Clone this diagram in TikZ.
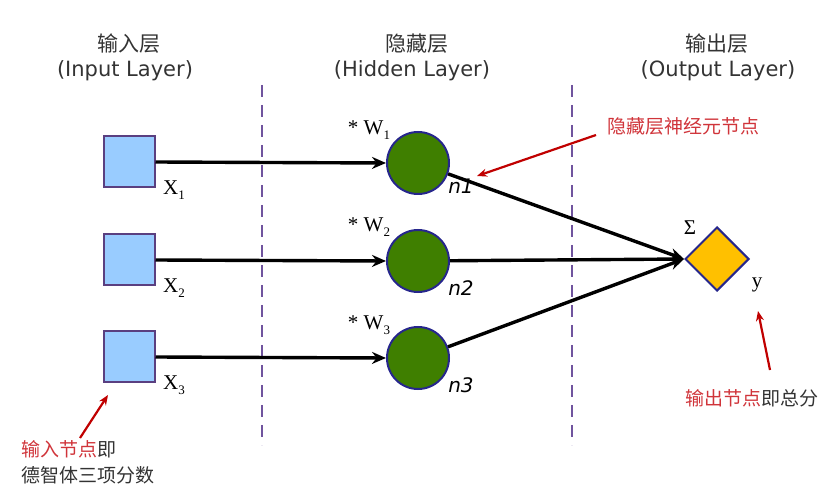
\documentclass[tikz,border=0pt]{standalone}
\usepackage{fontspec}
\setmainfont{DejaVu Sans}
\newfontfamily\cjk{Noto Sans CJK SC}
\newfontfamily\tms{Liberation Serif}
\usetikzlibrary{arrows.meta,shapes.geometric}
\definecolor{boxfill}{HTML}{99CCFF}
\definecolor{boxdraw}{HTML}{5A3F80}
\definecolor{neurfill}{HTML}{3F7F00}
\definecolor{neurdraw}{HTML}{26268C}
\definecolor{outfill}{HTML}{FFC000}
\definecolor{sepcol}{HTML}{70549E}
\definecolor{annred}{HTML}{D0343A}
\definecolor{arrred}{HTML}{C00000}
\definecolor{txtgray}{HTML}{333333}
\tikzset{
  inbox/.style={draw=boxdraw, fill=boxfill, line width=2pt, minimum size=51pt, inner sep=0pt},
  neuron/.style={circle, draw=neurdraw, fill=neurfill, line width=2pt, minimum size=62pt, inner sep=0pt},
  outnode/.style={diamond, draw=neurdraw, fill=outfill, line width=2pt, minimum size=64pt, inner sep=0pt, aspect=1},
  conn/.style={line width=3.4pt, -{Stealth[length=14pt,width=12pt]}},
  sepline/.style={sepcol, line width=2pt, dash pattern=on 12pt off 8pt},
  title/.style={text=txtgray, font=\fontsize{21}{24}\selectfont, inner sep=0pt},
  cjktitle/.style={text=txtgray, font=\cjk\fontsize{21}{24}\selectfont, inner sep=0pt},
  xlab/.style={font=\tms\fontsize{21}{24}\selectfont, inner sep=0pt},
  nlab/.style={font=\itshape\fontsize{20}{24}\selectfont, inner sep=0pt},
  ann/.style={text=txtgray, font=\cjk\fontsize{19}{26}\selectfont, inner sep=0pt, align=left},
  redarr/.style={arrred, line width=2.2pt, -{Stealth[length=10pt,width=8pt]}}
}
\newcommand{\subnum}[1]{\raisebox{-5pt}{\fontsize{13}{14}\selectfont #1}}
\begin{document}
\begin{tikzpicture}[x=1pt,y=-1pt]
\useasboundingbox (0,0) rectangle (831,497);
% titles
\node[cjktitle] (t1a) at (129,44) {输入层};
\node[title] (t1b) at (125,71) {(Input Layer)};
\node[cjktitle] (t2a) at (417,44) {隐藏层};
\node[title] (t2b) at (412,71) {(Hidden Layer)};
\node[cjktitle] (t3a) at (717,44) {输出层};
\node[title] (t3b) at (718,71) {(Output Layer)};
% separators
\coordinate (s1t) at (262,85); \coordinate (s1b) at (262,445);
\coordinate (s2t) at (572,85); \coordinate (s2b) at (572,445);
\draw[sepline] (s1t) -- (s1b);
\draw[sepline] (s2t) -- (s2b);
% nodes
\node[inbox] (x1) at (129,162) {};
\node[inbox] (x2) at (129,260) {};
\node[inbox] (x3) at (129,357) {};
\node[neuron] (h1) at (418,163) {};
\node[neuron] (h2) at (418,261) {};
\node[neuron] (h3) at (418,358) {};
\node[outnode] (out) at (717,259) {};
% connectors
\draw[conn] (x1.east) -- (h1.west);
\draw[conn] (x2.east) -- (h2.west);
\draw[conn] (x3.east) -- (h3.west);
\draw[conn] (h1) -- (out.west);
\draw[conn] (h2) -- (out.west);
\draw[conn] (h3) -- (out.west);
% labels
\node[xlab] (lx1) at (174,190) {X\subnum{1}};
\node[xlab] (lx2) at (174,288) {X\subnum{2}};
\node[xlab] (lx3) at (174,385) {X\subnum{3}};
\node[xlab] (lw1) at (369,130) {* W\subnum{1}};
\node[xlab] (lw2) at (369,227) {* W\subnum{2}};
\node[xlab] (lw3) at (369,325) {* W\subnum{3}};
\node[nlab] (ln1) at (461,186) {n1};
\node[nlab] (ln2) at (461,288) {n2};
\node[nlab] (ln3) at (461,385) {n3};
\node[xlab] (lsig) at (690,228) {Σ};
\node[xlab] (ly) at (757,285) {y};
% annotations
\node[ann, text=annred, anchor=west] (a1) at (607,126) {隐藏层神经元节点};
\coordinate (a1s) at (596,135);
\coordinate (a1e) at (477,176);
\draw[redarr] (a1s) -- (a1e);
\node[ann, anchor=north west] (a2) at (21,440) {{\color{annred}输入节点}即\\德智体三项分数};
\coordinate (a2s) at (80,438);
\coordinate (a2e) at (108,395);
\draw[redarr] (a2s) -- (a2e);
\node[ann, anchor=west] (a3) at (685,398) {{\color{annred}输出节点}即总分};
\coordinate (a3s) at (770,370);
\coordinate (a3e) at (758,311);
\draw[redarr] (a3s) -- (a3e);
\end{tikzpicture}
\end{document}
